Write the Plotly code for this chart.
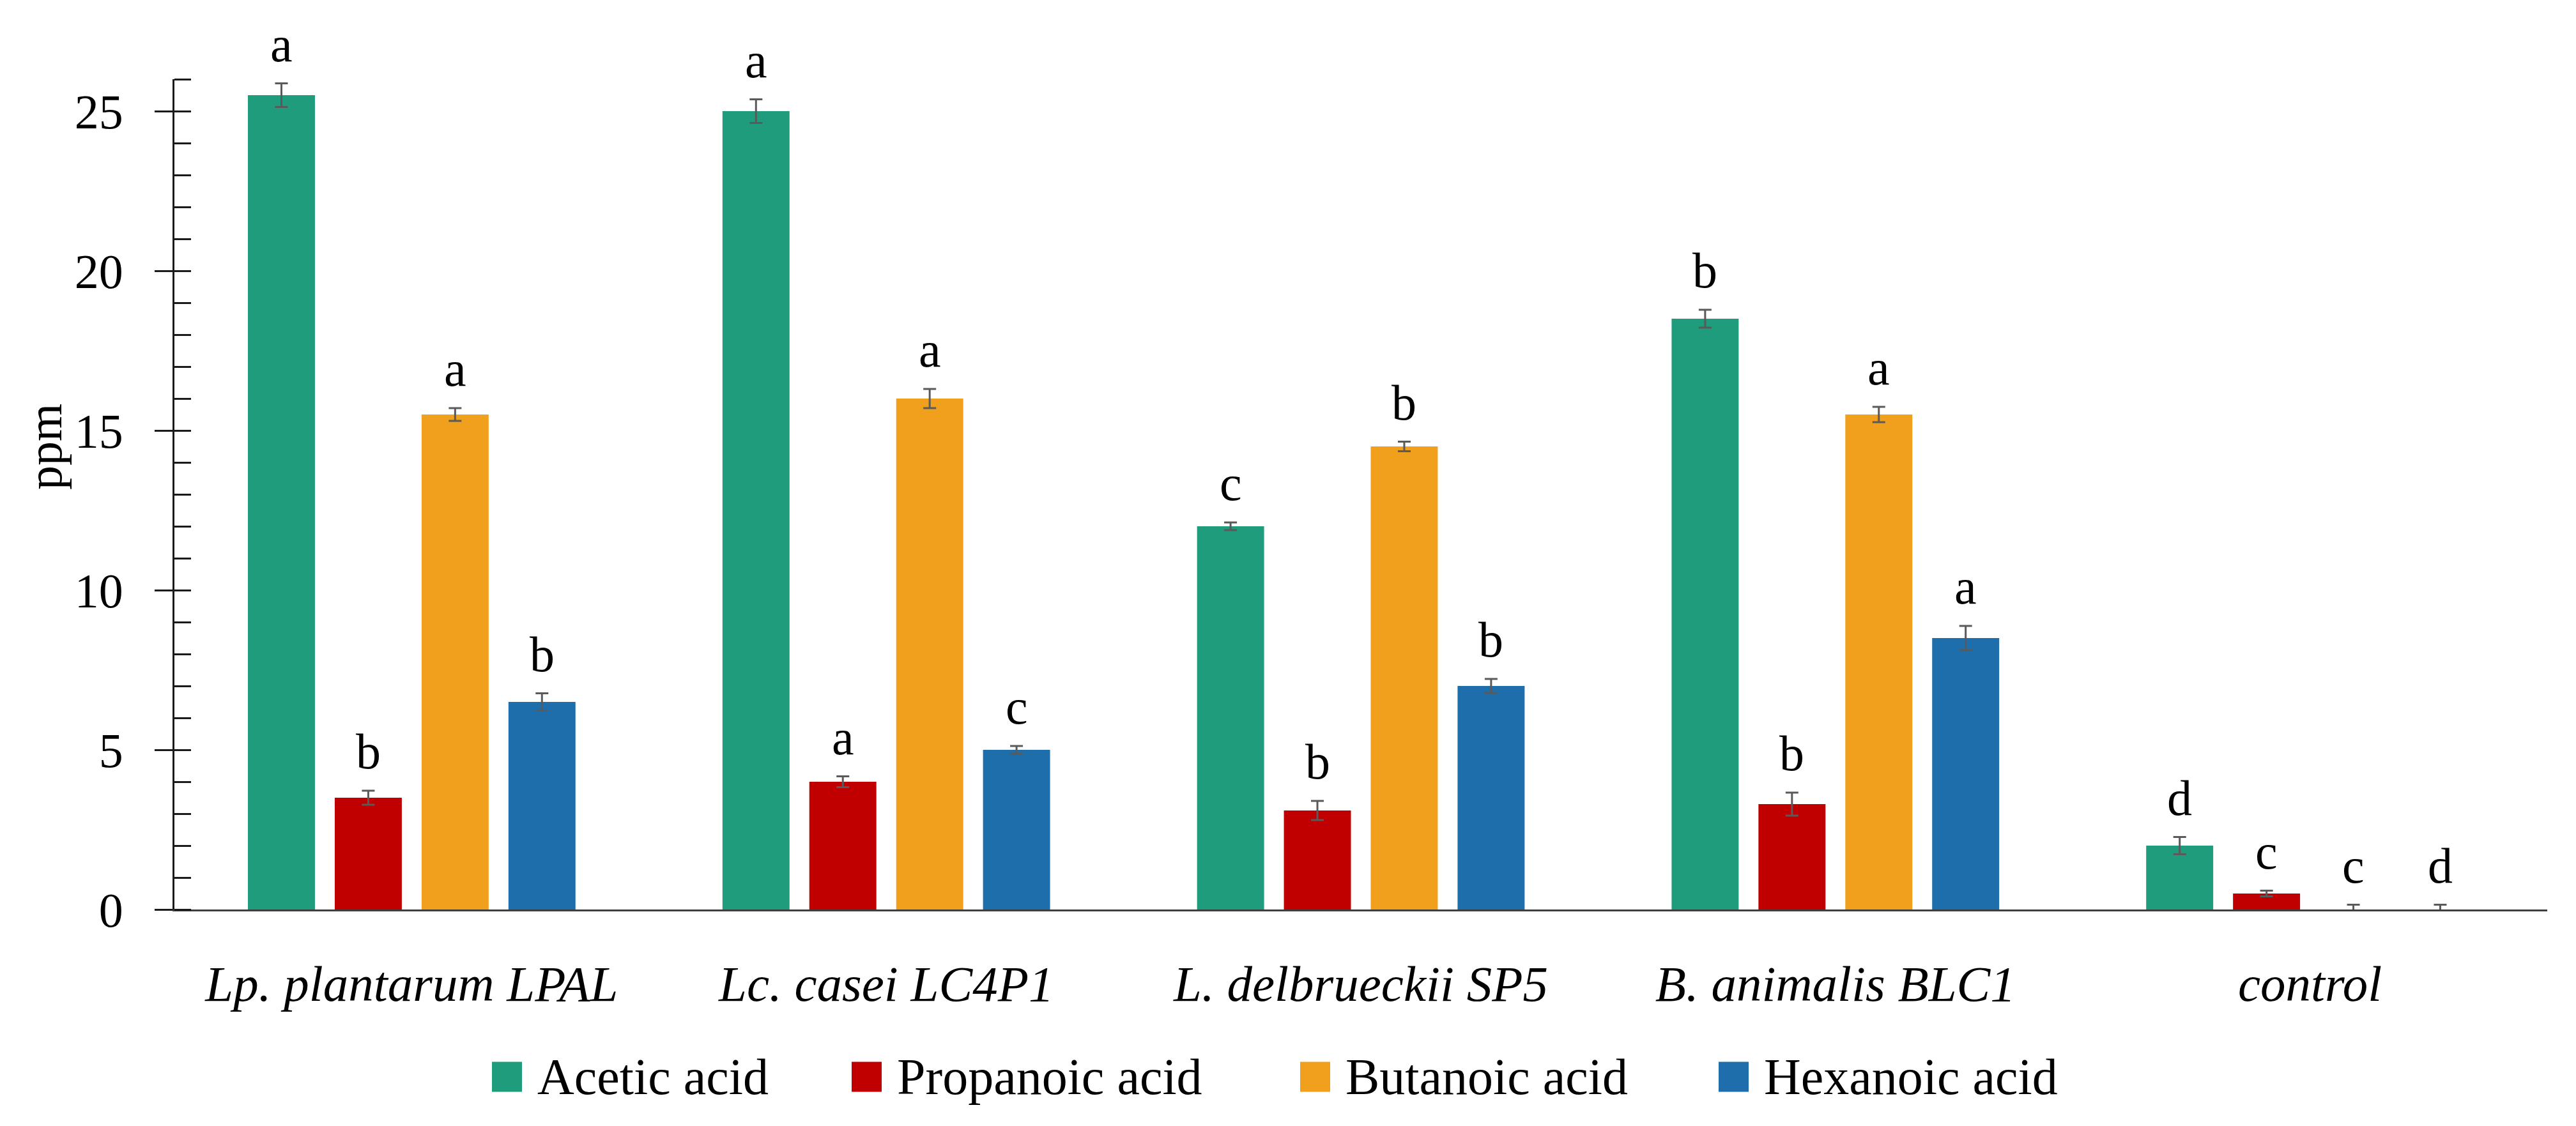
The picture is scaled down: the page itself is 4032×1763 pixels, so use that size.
import plotly.graph_objects as go

# ---------------- data ----------------
categories = ["Lp. plantarum LPAL", "Lc. casei LC4P1", "L. delbrueckii SP5",
              "B. animalis BLC1", "control"]
series_names = ["Acetic acid", "Propanoic acid", "Butanoic acid", "Hexanoic acid"]

acetic = [25.5, 25.0, 12.0, 18.5, 2.0]
propanoic = [3.5, 4.0, 3.1, 3.3, 0.5]
butanoic = [15.5, 16.0, 14.5, 15.5, 0.0]
hexanoic = [6.5, 5.0, 7.0, 8.5, 0.0]

acetic_err = [0.37, 0.37, 0.12, 0.28, 0.27]
propanoic_err = [0.22, 0.17, 0.30, 0.36, 0.09]
butanoic_err = [0.20, 0.30, 0.15, 0.24, 0.15]
hexanoic_err = [0.27, 0.12, 0.22, 0.38, 0.15]

acetic_letters = ["a", "a", "c", "b", "d"]
propanoic_letters = ["b", "a", "b", "b", "c"]
butanoic_letters = ["a", "a", "b", "a", "c"]
hexanoic_letters = ["b", "c", "b", "a", "d"]

y_ticks = [0, 5, 10, 15, 20, 25]
y_title = "ppm"

# ---------------- style / layout ----------------
colors = ["#1E9C7B", "#C00000", "#F1A01D", "#1E6EAB"]
W, H = 4032, 1763
ML, MR, MT, MB = 273, 45, 124, 339
PLOT_W = W - ML - MR
PLOT_H = H - MT - MB
BARGAP = 0.268
BARGROUPGAP = 0.228
YMAX = 26
FONT = "Liberation Serif"

values = [acetic, propanoic, butanoic, hexanoic]
errors = [acetic_err, propanoic_err, butanoic_err, hexanoic_err]
letters = [acetic_letters, propanoic_letters, butanoic_letters, hexanoic_letters]

fig = go.Figure()
for name, vals, errs, col in zip(series_names, values, errors, colors):
    fig.add_trace(go.Bar(
        name=name, x=categories, y=vals,
        marker=dict(color=col, line=dict(width=0)),
        error_y=dict(type="data", array=errs, visible=True,
                     color="#5A5A5A", thickness=3, width=10),
        showlegend=False,
    ))


def px_to_paper_x(px):
    return (px - ML) / PLOT_W


def px_to_paper_y(py):
    return (MT + PLOT_H - py) / PLOT_H


# significance letters above error bars
cat_w = PLOT_W / len(categories)
slot = cat_w * (1 - BARGAP) / len(series_names)
annotations = []
for i, (vals, errs, lets) in enumerate(zip(values, errors, letters)):
    shift = (i - (len(series_names) - 1) / 2) * slot
    for c, v, e, t in zip(categories, vals, errs, lets):
        annotations.append(dict(
            x=c, y=v + e, xref="x", yref="y", text=t, showarrow=False,
            xanchor="center", yanchor="bottom", xshift=shift, yshift=16,
            font=dict(family=FONT, size=78, color="black"),
        ))

# y-axis title
annotations.append(dict(
    x=px_to_paper_x(70), y=px_to_paper_y(700), xref="paper", yref="paper",
    text=y_title, showarrow=False, textangle=-90,
    xanchor="center", yanchor="middle",
    font=dict(family=FONT, size=76, color="black"),
))

# custom legend (large square swatches like the original)
legend_left_px = [770, 1333, 2035, 2690]
legend_cy = 1686
sw = 47
shapes = []
for name, col, lx in zip(series_names, colors, legend_left_px):
    shapes.append(dict(
        type="rect", xref="paper", yref="paper",
        x0=px_to_paper_x(lx), x1=px_to_paper_x(lx + sw),
        y0=px_to_paper_y(legend_cy + sw / 2), y1=px_to_paper_y(legend_cy - sw / 2),
        fillcolor=col, line=dict(width=0),
    ))
    annotations.append(dict(
        x=px_to_paper_x(lx + sw + 22), y=px_to_paper_y(legend_cy),
        xref="paper", yref="paper", text=name, showarrow=False,
        xanchor="left", yanchor="middle",
        font=dict(family=FONT, size=80, color="black"),
    ))

fig.update_layout(
    width=W, height=H,
    margin=dict(l=ML, r=MR, t=MT, b=MB, autoexpand=False),
    paper_bgcolor="white", plot_bgcolor="white",
    barmode="group", bargap=BARGAP, bargroupgap=BARGROUPGAP,
    font=dict(family=FONT, color="black"),
    annotations=annotations, shapes=shapes,
    showlegend=False,
    xaxis=dict(
        showline=True, linecolor="#404040", linewidth=3,
        ticks="", showgrid=False, zeroline=False,
        tickfont=dict(family=FONT, size=79, color="black"),
        ticklabelstandoff=45, automargin=False,
        tickvals=categories,
        ticktext=["<i>%s</i>" % c for c in categories],
    ),
    yaxis=dict(
        range=[0, YMAX], showline=True, linecolor="#1A1A1A", linewidth=3,
        ticks="outside", ticklen=28, tickwidth=3, tickcolor="#1A1A1A",
        tickvals=y_ticks, showgrid=False, zeroline=False,
        tickfont=dict(family=FONT, size=76, color="black"),
        ticklabelstandoff=34, automargin=False,
        minor=dict(ticks="inside", ticklen=26, tickwidth=3,
                   tickcolor="#1A1A1A", dtick=1, tick0=0, showgrid=False),
    ),
)

fig.write_html("out.html", config={"displayModeBar": False},
               post_script="document.body.style.margin='0px';")
